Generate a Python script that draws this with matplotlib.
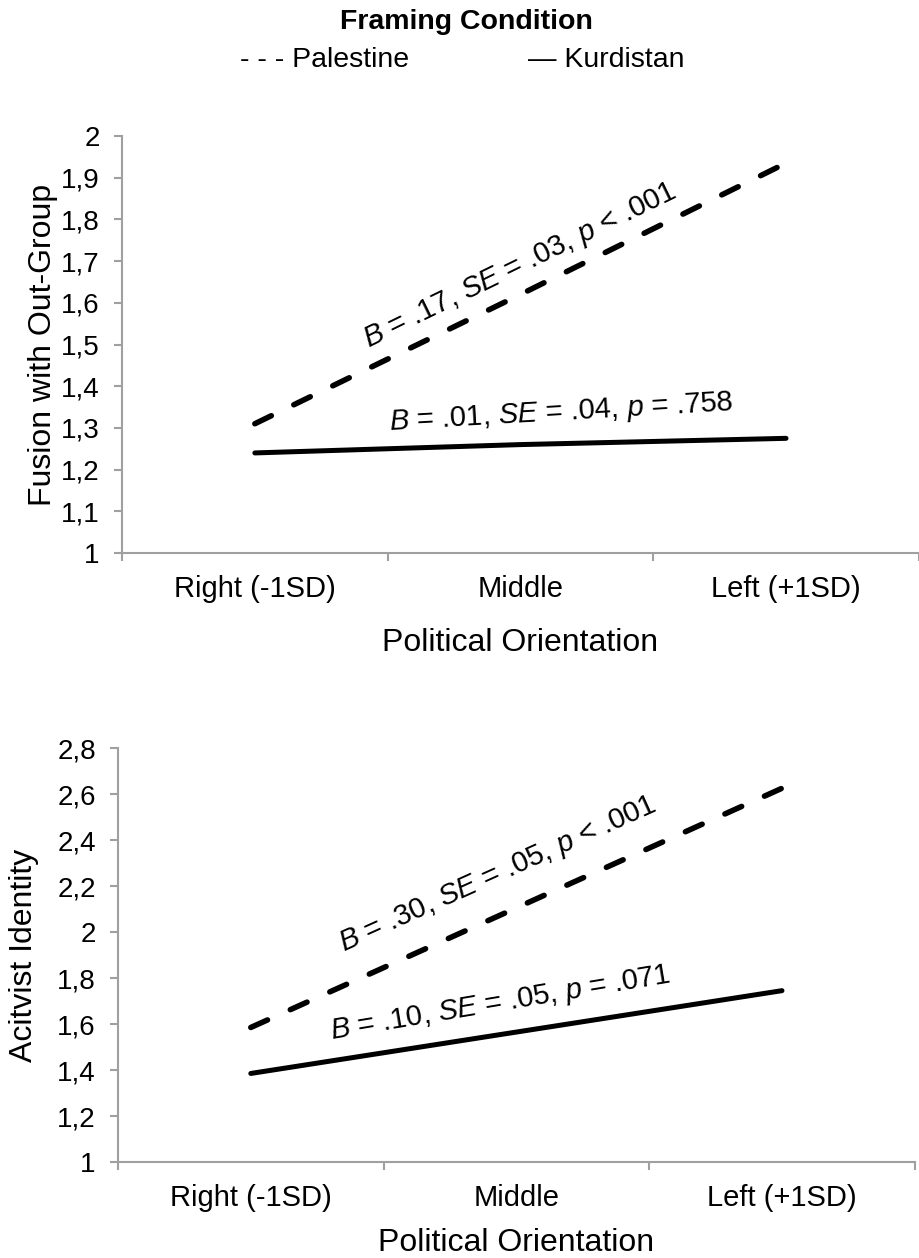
import matplotlib
matplotlib.use('Agg')
import matplotlib.pyplot as plt
import numpy as np

plt.rcParams['font.family'] = 'Liberation Sans'
plt.rcParams['mathtext.fontset'] = 'custom'
plt.rcParams['mathtext.rm'] = 'Liberation Sans'
plt.rcParams['mathtext.it'] = 'Liberation Sans:italic'

# data
orientation = ['Right (-1SD)', 'Middle', 'Left (+1SD)']
fusion_palestine = [1.31, 1.62, 1.935]
fusion_kurdistan = [1.24, 1.26, 1.275]
activist_palestine = [1.585, 2.105, 2.625]
activist_kurdistan = [1.385, 1.565, 1.745]

fusion_ticks = [1, 1.1, 1.2, 1.3, 1.4, 1.5, 1.6, 1.7, 1.8, 1.9, 2]
activist_ticks = [1, 1.2, 1.4, 1.6, 1.8, 2, 2.2, 2.4, 2.6, 2.8]

grey = '#a0a0a0'
dash = (0, (3.3, 4.5))


def fmt(v):
    s = ('%.1f' % v).rstrip('0').rstrip('.')
    return s.replace('.', ',')


def style_axes(ax, yticks, ylabel, ylab_x, xlab_y):
    x = np.arange(len(orientation))
    ax.set_xlim(-0.5, len(orientation) - 0.5)
    ax.set_ylim(yticks[0], yticks[-1])
    ax.set_xticks(np.arange(len(orientation) + 1) - 0.5)
    ax.set_xticklabels([])
    ax.set_xticks(x, minor=True)
    ax.set_xticklabels(orientation, minor=True)
    ax.tick_params(axis='x', which='minor', length=0, pad=16, labelsize=21)
    ax.tick_params(axis='x', which='major', direction='out', length=6, width=1.5, color=grey)
    ax.set_yticks(yticks)
    ax.set_yticklabels([fmt(v) for v in yticks])
    ax.tick_params(axis='y', direction='out', length=6, width=1.5, color=grey, pad=10, labelsize=20)
    for s in ['top', 'right']:
        ax.spines[s].set_visible(False)
    for s in ['left', 'bottom']:
        ax.spines[s].set_color(grey)
        ax.spines[s].set_linewidth(1.5)
    ax.set_ylabel(ylabel, fontsize=23, va='center')
    ax.yaxis.set_label_coords(ylab_x, 0.5)
    ax.set_xlabel('Political Orientation', fontsize=23, va='center')
    ax.xaxis.set_label_coords(0.5, xlab_y)


fig = plt.figure(figsize=(9.19, 12.58), dpi=100)

ax1 = fig.add_axes([0.1328, 0.5604, 0.867, 0.3315])
x = np.arange(len(orientation))
ax1.plot(x, fusion_palestine, color='black', lw=4.0, linestyle=dash, dash_capstyle='round')
ax1.plot(x, fusion_kurdistan, color='black', lw=3.6, solid_capstyle='round')
style_axes(ax1, fusion_ticks, 'Fusion with Out-Group', -0.099, -0.216)
ax1.text(1.0, 1.688, r'$B$ = .17, $SE$ = .03, $p$ < .001', fontsize=21,
         rotation=26, rotation_mode='anchor', ha='center', va='center')
ax1.text(1.155, 1.336, r'$B$ = .01, $SE$ = .04, $p$ = .758', fontsize=21,
         rotation=3.3, rotation_mode='anchor', ha='center', va='center')

ax2 = fig.add_axes([0.1284, 0.0763, 0.867, 0.3291])
ax2.plot(x, activist_palestine, color='black', lw=4.0, linestyle=dash, dash_capstyle='round')
ax2.plot(x, activist_kurdistan, color='black', lw=3.6, solid_capstyle='round')
style_axes(ax2, activist_ticks, 'Acitvist Identity', -0.118, -0.196)
ax2.text(0.93, 2.25, r'$B$ = .30, $SE$ = .05, $p$ < .001', fontsize=21,
         rotation=24.2, rotation_mode='anchor', ha='center', va='center')
ax2.text(0.94, 1.69, r'$B$ = .10, $SE$ = .05, $p$ = .071', fontsize=21,
         rotation=9.5, rotation_mode='anchor', ha='center', va='center')

# legend written as text, like the original
fig.text(0.508, 0.9825, 'Framing Condition', fontsize=20.5, fontweight='bold',
         ha='center', va='center')
fig.text(0.261, 0.952, '- - - Palestine', fontsize=20.5, ha='left', va='center')
fig.text(0.5745, 0.952, '\u2014 Kurdistan', fontsize=20.5, ha='left', va='center')

fig.savefig('out.png', dpi=100, facecolor='white')
